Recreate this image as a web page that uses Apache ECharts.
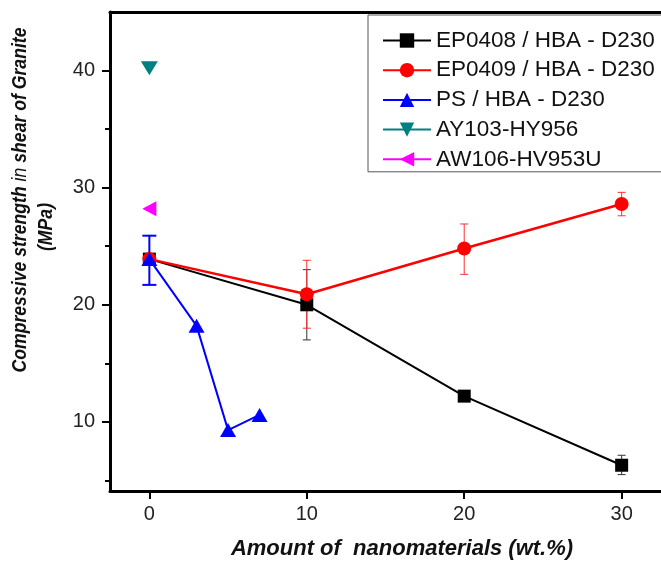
<!DOCTYPE html>
<html><head><meta charset="utf-8">
<script src="https://cdn.jsdelivr.net/npm/echarts@6/dist/echarts.min.js"></script>
<style>html,body{margin:0;padding:0;background:#fff}#c{width:661px;height:561px}</style>
</head><body><div id="c"></div>
<script>
const seriesNames = ['EP0408 / HBA - D230', 'EP0409 / HBA - D230', 'PS / HBA - D230', 'AY103-HY956', 'AW106-HV953U'];
const epX = [0, 10, 20, 30];
const ep0408 = [23.9, 20.0, 12.2, 6.3];
const ep0409 = [23.9, 20.9, 24.8, 28.6];
const psX = [0, 3, 5, 7];
const ps = [23.9, 18.2, 9.3, 10.6];
const ay103X = [0];
const ay103 = [40.2];
const aw106X = [0];
const aw106 = [28.2];
// error bars: [x, low, high]
const ep0408Err = [[10, 17.0, 23.0], [30, 5.5, 7.15]];
const ep0409Err = [[10, 18.0, 23.8], [20, 22.6, 26.9], [30, 27.6, 29.6]];
const psErr = [[0, 21.7, 25.9]];
const xTicks = [0, 10, 20, 30];
const yTicks = [10, 20, 30, 40];
const yMinorTicks = [5, 15, 25, 35];
const xTitle = 'Amount of  nanomaterials (wt.%)';
const yTitle1 = ['Compressive strength ', 'in', ' shear of Granite'];
const yTitle2 = '(MPa)';

const FONT = '"Liberation Sans", Arial, sans-serif';
const pair = (xs, ys) => xs.map((x, i) => [x, ys[i]]);

function errRender(color, lw, cap) {
  return function (params, api) {
    const x = api.value(0), lo = api.value(1), hi = api.value(2);
    const a = api.coord([x, lo]), b = api.coord([x, hi]);
    const st = { stroke: color, lineWidth: lw };
    return { type: 'group', children: [
      { type: 'line', shape: { x1: a[0], y1: a[1], x2: b[0], y2: b[1] }, style: st },
      { type: 'line', shape: { x1: a[0] - cap / 2, y1: a[1], x2: a[0] + cap / 2, y2: a[1] }, style: st },
      { type: 'line', shape: { x1: b[0] - cap / 2, y1: b[1], x2: b[0] + cap / 2, y2: b[1] }, style: st }
    ] };
  };
}
function errSeries(data, color, lw, cap) {
  return { type: 'custom', data: data, encode: { x: 0, y: [1, 2] }, renderItem: errRender(color, lw, cap), z: 1, silent: true };
}

const chart = echarts.init(document.getElementById('c'));
chart.setOption({
  animation: false,
  backgroundColor: '#fff',
  grid: { left: 110, top: 12, right: -9, bottom: 70 },
  xAxis: [
    { type: 'value', min: -2.5, max: 32.5, position: 'bottom',
      axisLine: { show: true, onZero: false, lineStyle: { color: '#000', width: 3 } },
      axisTick: { show: true, customValues: xTicks, length: 8, lineStyle: { color: '#000', width: 2 } },
      axisLabel: { customValues: xTicks, fontSize: 20, color: '#222', fontFamily: FONT, margin: 13 },
      splitLine: { show: false } },
    { type: 'value', min: -2.5, max: 32.5, position: 'top',
      axisLine: { show: true, onZero: false, lineStyle: { color: '#000', width: 3 } },
      axisTick: { show: false }, axisLabel: { show: false }, splitLine: { show: false } }
  ],
  yAxis: [
    { type: 'value', min: 4.1, max: 45, position: 'left',
      axisLine: { show: true, onZero: false, lineStyle: { color: '#000', width: 3 } },
      axisTick: { show: true, customValues: yTicks, length: 8, lineStyle: { color: '#000', width: 2 } },
      axisLabel: { customValues: yTicks, fontSize: 20, color: '#222', fontFamily: FONT, margin: 15 },
      splitLine: { show: false } },
    { type: 'value', min: 4.1, max: 45, position: 'left',
      axisLine: { show: false, onZero: false },
      axisTick: { show: true, customValues: yMinorTicks, length: 5, lineStyle: { color: '#000', width: 2 } },
      axisLabel: { show: false }, splitLine: { show: false } }
  ],
  legend: {
    data: seriesNames, orient: 'vertical', left: 368, top: 15,
    padding: [14, 30, 1, 14], itemGap: 6.7, itemWidth: 48, itemHeight: 18,
    backgroundColor: '#fff', borderColor: '#555', borderWidth: 1,
    textStyle: { fontSize: 22.5, color: '#111', fontFamily: FONT, lineHeight: 22 }
  },
  graphic: [
    { type: 'text', x: 402, y: 549, style: { text: xTitle, font: 'italic bold 22px ' + FONT, fill: '#111', textAlign: 'center', textVerticalAlign: 'middle' } },
    { type: 'text', x: 20, y: 200, rotation: Math.PI / 2, scaleX: 0.84,
      style: { text: '{b|' + yTitle1[0] + '}{n|' + yTitle1[1] + '}{b|' + yTitle1[2] + '}', fill: '#111', textAlign: 'center', textVerticalAlign: 'middle',
        rich: { b: { font: 'italic bold 21px ' + FONT, fill: '#111' }, n: { font: 'italic 21px ' + FONT, fill: '#111' } } } },
    { type: 'text', x: 46, y: 227, rotation: Math.PI / 2, scaleX: 0.84,
      style: { text: yTitle2, font: 'italic bold 21px ' + FONT, fill: '#111', textAlign: 'center', textVerticalAlign: 'middle' } }
  ],
  series: [
    errSeries(ep0408Err, '#333', 1, 8),
    errSeries(ep0409Err, '#ff3030', 1, 8),
    errSeries(psErr, '#0000ff', 2, 14),
    { type: 'line', name: seriesNames[0], data: pair(epX, ep0408), symbol: 'rect', symbolSize: 13,
      lineStyle: { color: '#000', width: 2 }, itemStyle: { color: '#000' }, z: 2 },
    { type: 'line', name: seriesNames[1], data: pair(epX, ep0409), symbol: 'circle', symbolSize: 14,
      lineStyle: { color: '#ff0000', width: 2.5 }, itemStyle: { color: '#ff0000' }, z: 3 },
    { type: 'line', name: seriesNames[2], data: pair(psX, ps), symbol: 'triangle', symbolSize: [16, 14],
      lineStyle: { color: '#0000ff', width: 2 }, itemStyle: { color: '#0000ff' }, z: 4 },
    { type: 'line', name: seriesNames[3], data: pair(ay103X, ay103), symbol: 'triangle', symbolSize: [17, 14], symbolRotate: 180,
      lineStyle: { color: '#008080', width: 2 }, itemStyle: { color: '#008080' }, z: 5 },
    { type: 'line', name: seriesNames[4], data: pair(aw106X, aw106), symbol: 'triangle', symbolSize: [15, 14], symbolRotate: 90,
      lineStyle: { color: '#ff00ff', width: 2 }, itemStyle: { color: '#ff00ff' }, z: 5 }
  ]
});
</script>
</body></html>
